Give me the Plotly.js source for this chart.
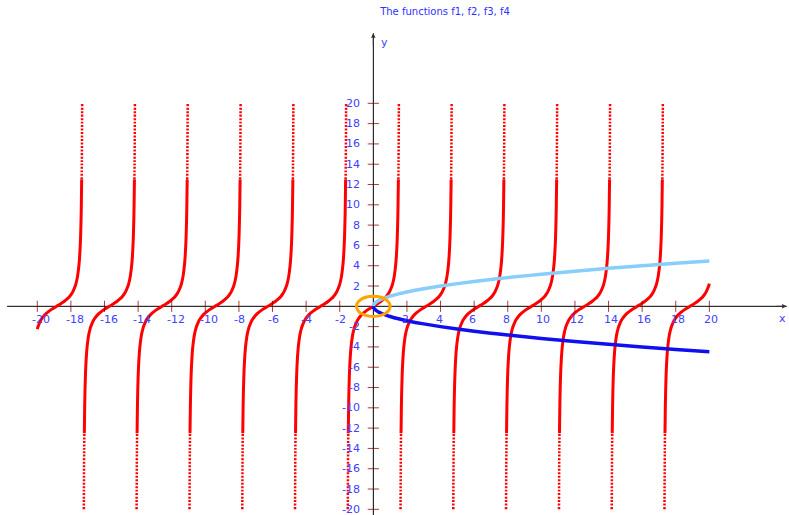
<!DOCTYPE html>
<html>
<head>
<meta charset="utf-8">
<script src="https://cdn.plot.ly/plotly-3.0.1.min.js"></script>
<style>html,body{margin:0;padding:0;background:#fff}#chart{width:789px;height:515px}</style>
</head>
<body>
<div id="chart"></div>
<script>
// ---- data ----
// f1 = tan(x): zero crossings of each branch
var tanCenters = [-18.85, -15.71, -12.57, -9.42, -6.28, -3.14, 0, 3.14, 6.28, 9.42, 12.57, 15.71, 18.85];
// shape of one branch: offset from its zero crossing and value
var tanOffsets = [-1.5208, -1.5153, -1.5084, -1.4995, -1.4910, -1.4711, -1.4601, -1.4464, -1.4289, -1.4056, -1.3734, -1.3258, -1.2490, -1.1903, -1.1504, -1.1071, -0.9828, -0.8961, -0.7854, -0.6435, -0.4636, -0.2450, 0,
                  0.2450, 0.4636, 0.6435, 0.7854, 0.8961, 0.9828, 1.1071, 1.1504, 1.1903, 1.2490, 1.3258, 1.3734, 1.4056, 1.4289, 1.4464, 1.4601, 1.4711, 1.4910, 1.4995, 1.5084, 1.5153, 1.5208];
var tanValues  = [-20, -18, -16, -14, -12.5, -10, -9, -8, -7, -6, -5, -4, -3, -2.5, -2.237, -2, -1.5, -1.25, -1, -0.75, -0.5, -0.25, 0,
                  0.25, 0.5, 0.75, 1, 1.25, 1.5, 2, 2.237, 2.5, 3, 4, 5, 6, 7, 8, 9, 10, 12.5, 14, 16, 18, 20];
var xMin = -20, xMax = 20;
var solidLimit = 12.5;

// f2 = sqrt(x), f3 = -sqrt(x)
var sqX  = [0, 0.02, 0.05, 0.1, 0.2, 0.35, 0.5, 0.75, 1, 1.5, 2, 3, 4, 5, 6, 7, 8, 10, 12, 14, 16, 18, 20];
var f2Y  = [0, 0.141, 0.224, 0.316, 0.447, 0.592, 0.707, 0.866, 1, 1.225, 1.414, 1.732, 2, 2.236, 2.449, 2.646, 2.828, 3.162, 3.464, 3.742, 4, 4.243, 4.472];
var f3Y  = [0, -0.141, -0.224, -0.316, -0.447, -0.592, -0.707, -0.866, -1, -1.225, -1.414, -1.732, -2, -2.236, -2.449, -2.646, -2.828, -3.162, -3.464, -3.742, -4, -4.243, -4.472];

// f4 = unit circle
var circX = [1, 0.966, 0.866, 0.707, 0.5, 0.259, 0, -0.259, -0.5, -0.707, -0.866, -0.966, -1, -0.966, -0.866, -0.707, -0.5, -0.259, 0, 0.259, 0.5, 0.707, 0.866, 0.966, 1];
var circY = [0, 0.259, 0.5, 0.707, 0.866, 0.966, 1, 0.966, 0.866, 0.707, 0.5, 0.259, 0, -0.259, -0.5, -0.707, -0.866, -0.966, -1, -0.966, -0.866, -0.707, -0.5, -0.259, 0];

var xTicks = [-20, -18, -16, -14, -12, -10, -8, -6, -4, -2, 2, 4, 6, 8, 10, 12, 14, 16, 18, 20];
var yTicks = [-20, -18, -16, -14, -12, -10, -8, -6, -4, -2, 2, 4, 6, 8, 10, 12, 14, 16, 18, 20];
var titleText = 'The functions f1, f2, f3, f4';

// ---- build traces ----
var solidX = [], solidY = [], dotX = [], dotY = [];
tanCenters.forEach(function (c) {
  for (var i = 0; i < tanOffsets.length; i++) {
    var x = c + tanOffsets[i], y = tanValues[i];
    if (x < xMin - 0.01 || x > xMax + 0.01) continue;
    if (y <= -solidLimit) { dotX.push(x); dotY.push(y); }
    if (y >= -solidLimit && y <= solidLimit) { solidX.push(x); solidY.push(y); }
    if (y >= solidLimit) {
      if (y === solidLimit) { dotX.push(null); dotY.push(null); }
      dotX.push(x); dotY.push(y);
    }
  }
  solidX.push(null); solidY.push(null);
  dotX.push(null); dotY.push(null);
});

var red = '#ff0000';
var traces = [
  {x: dotX, y: dotY, mode: 'lines', line: {color: red, width: 2.5, dash: '2px,1.5px', shape: 'spline'}, hoverinfo: 'skip'},
  {x: solidX, y: solidY, mode: 'lines', line: {color: red, width: 3, shape: 'spline'}, hoverinfo: 'skip'},
  {x: sqX, y: f2Y, mode: 'lines', line: {color: '#87cefa', width: 3.5, shape: 'spline'}, hoverinfo: 'skip'},
  {x: sqX, y: f3Y, mode: 'lines', line: {color: '#1010ee', width: 3.5, shape: 'spline'}, hoverinfo: 'skip'},
  {x: circX, y: circY, mode: 'lines', line: {color: '#ffa500', width: 3, shape: 'spline'}, hoverinfo: 'skip'},
  {x: xTicks, y: xTicks.map(function () { return 0; }), mode: 'markers',
   marker: {symbol: 'line-ns', size: 8, line: {color: 'rgba(128,0,0,0.75)', width: 1}}, hoverinfo: 'skip'},
  {x: yTicks.map(function () { return 0; }), y: yTicks, mode: 'markers',
   marker: {symbol: 'line-ew', size: 8, line: {color: 'rgba(128,0,0,0.75)', width: 1}}, hoverinfo: 'skip'}
];

var labelFont = {family: 'DejaVu Sans, Verdana, sans-serif', size: 11, color: '#4040ff'};
var annotations = [];
xTicks.forEach(function (v) {
  annotations.push({x: v, y: 0, xref: 'x', yref: 'y', text: String(v), showarrow: false,
    xanchor: 'left', yanchor: 'middle', xshift: -7, yshift: -13, font: labelFont});
});
yTicks.forEach(function (v) {
  annotations.push({x: 0, y: v, xref: 'x', yref: 'y', text: String(v), showarrow: false,
    xanchor: 'right', yanchor: 'middle', xshift: -11, yshift: 0, font: labelFont});
});
// axis names
annotations.push({x: 0, y: 26.0, xref: 'x', yref: 'y', text: 'y', showarrow: false, xanchor: 'left', yanchor: 'middle', xshift: 6, font: labelFont});
annotations.push({x: 24.74, y: 0, xref: 'x', yref: 'y', text: 'x', showarrow: false, xanchor: 'right', yanchor: 'middle', xshift: -1, yshift: -12, font: labelFont});
// axis arrows
annotations.push({x: 0, y: 26.9, xref: 'x', yref: 'y', ax: 0, ay: 14, text: '', showarrow: true, arrowhead: 2, arrowsize: 0.9, arrowwidth: 1, arrowcolor: '#333'});
annotations.push({x: 24.6, y: 0, xref: 'x', yref: 'y', ax: -12, ay: 0, text: '', showarrow: true, arrowhead: 2, arrowsize: 0.9, arrowwidth: 1, arrowcolor: '#333'});

var layout = {
  width: 789, height: 515,
  margin: {l: 0, r: 0, t: 0, b: 0},
  paper_bgcolor: '#fff', plot_bgcolor: '#fff',
  showlegend: false,
  title: {text: titleText, x: 0.564, y: 0.977, xanchor: 'center', yanchor: 'middle', xref: 'paper', yref: 'paper',
          font: {family: 'DejaVu Sans, Verdana, sans-serif', size: 10, color: '#3030ff'}},
  xaxis: {range: [-22.22, 24.74], showgrid: false, zeroline: false, showticklabels: false, ticks: '', showline: false, fixedrange: true},
  yaxis: {range: [-20.56, 30.18], showgrid: false, zeroline: false, showticklabels: false, ticks: '', showline: false, fixedrange: true},
  shapes: [
    {type: 'line', xref: 'x', yref: 'y', x0: -21.8, x1: 24.6, y0: 0, y1: 0, line: {color: '#000', width: 1}, layer: 'below'},
    {type: 'line', xref: 'x', yref: 'y', x0: 0, x1: 0, y0: -20.56, y1: 26.9, line: {color: '#000', width: 1}, layer: 'below'}
  ],
  annotations: annotations
};

Plotly.newPlot('chart', traces, layout, {staticPlot: true, displayModeBar: false});
</script>
</body>
</html>
